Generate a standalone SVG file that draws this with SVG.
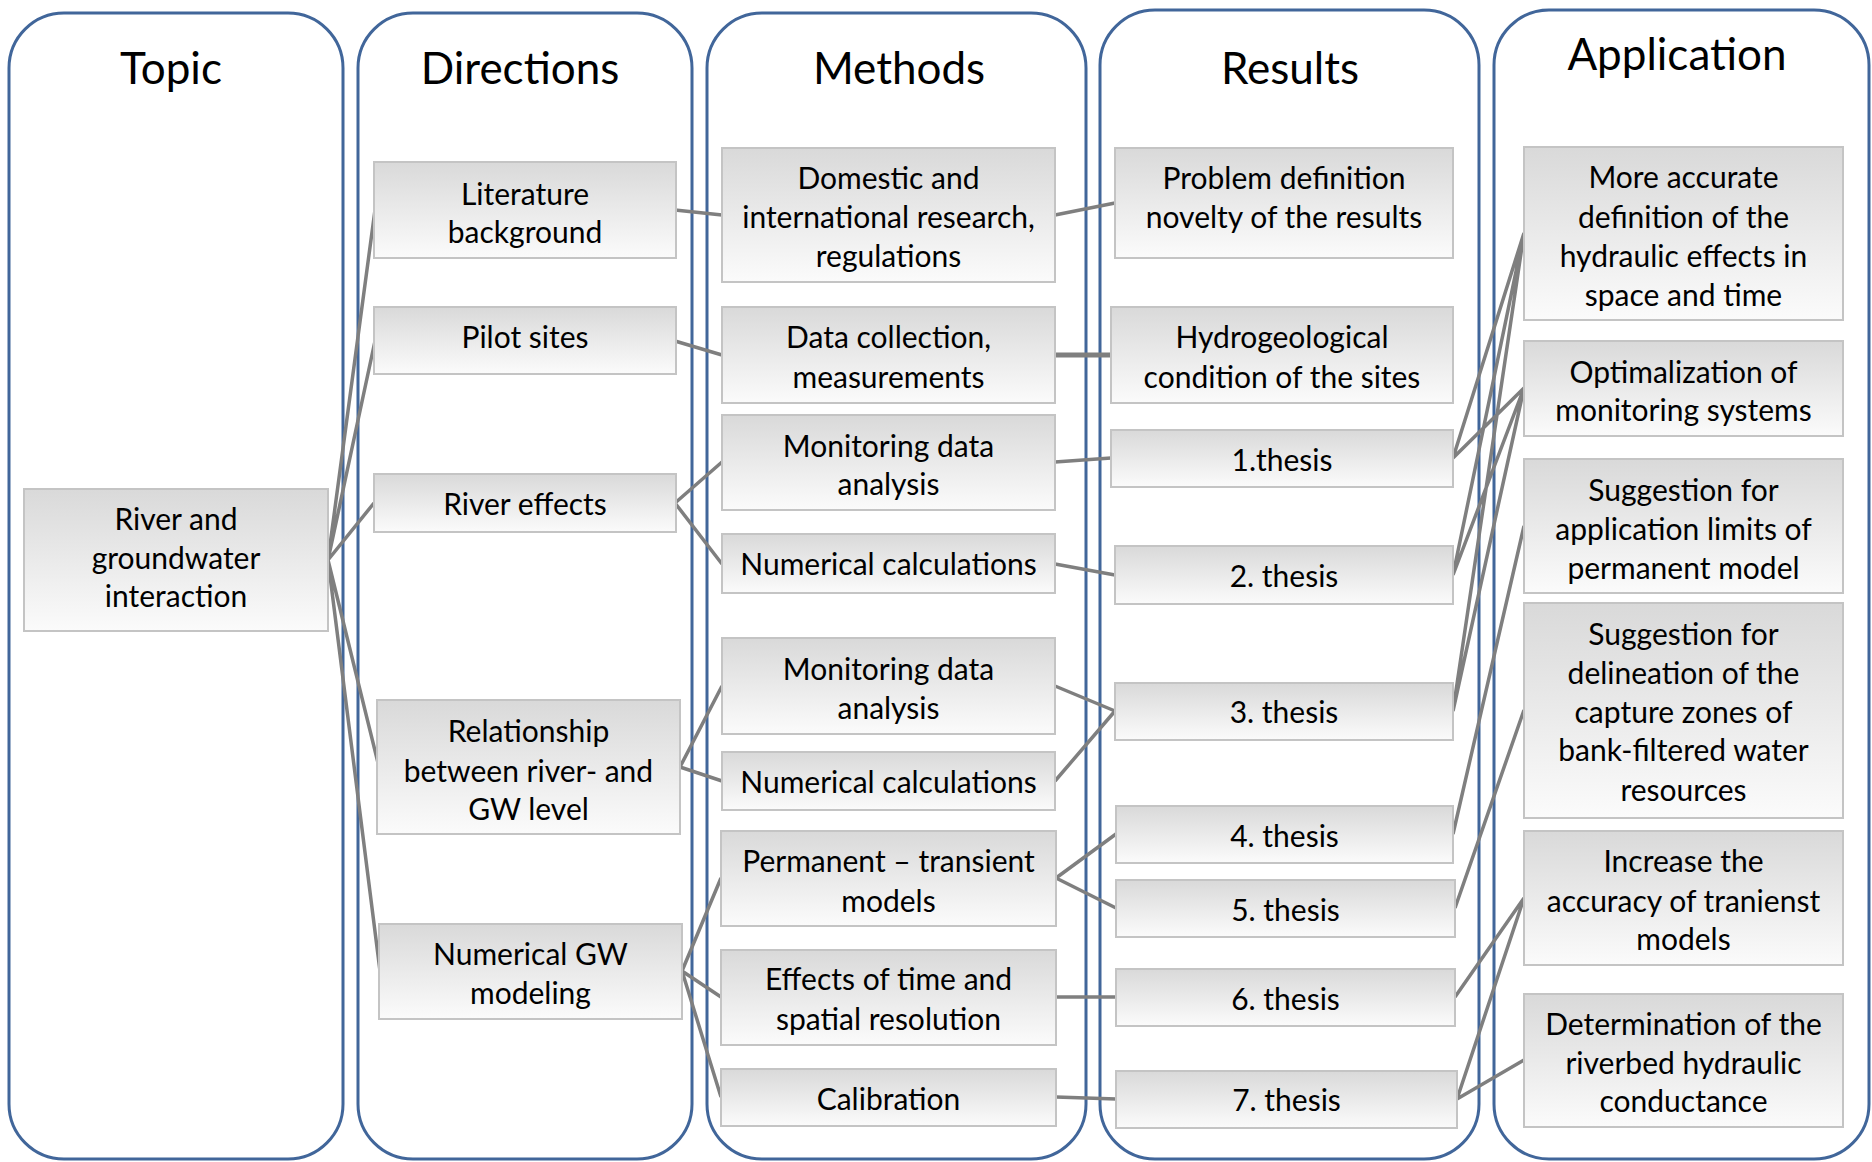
<svg xmlns="http://www.w3.org/2000/svg" width="1872" height="1162" viewBox="0 0 1872 1162">
<defs>
<linearGradient id="g" x1="0" y1="0" x2="0" y2="1">
<stop offset="0" stop-color="#d9d9d9"/>
<stop offset="1" stop-color="#fbfbfb"/>
</linearGradient>
</defs>
<style>
.lane{fill:#fff;stroke:#41669a;stroke-width:3}
.hd{font-family:Lato,"Open Sans",sans-serif;font-size:44px;fill:#000;text-anchor:middle}
.box{fill:url(#g);stroke:#c4c4c4;stroke-width:2}
.t{font-family:Lato,"Open Sans",sans-serif;font-size:30px;fill:#000;text-anchor:middle}
.c{stroke:#7f7f7f;stroke-width:3.5;fill:none}
</style>
<g id="lanes">
<g id="lane-topic"><rect class="lane" x="9" y="13" width="334" height="1146" rx="55"/><text class="hd" x="171" y="84">Topic</text></g>
<g id="lane-directions"><rect class="lane" x="358" y="13" width="334" height="1146" rx="55"/><text class="hd" x="520" y="84">Directions</text></g>
<g id="lane-methods"><rect class="lane" x="707" y="13" width="379" height="1146" rx="55"/><text class="hd" x="899" y="84">Methods</text></g>
<g id="lane-results"><rect class="lane" x="1100" y="10" width="379" height="1149" rx="55"/><text class="hd" x="1290" y="84">Results</text></g>
<g id="lane-application"><rect class="lane" x="1494" y="10" width="375" height="1149" rx="55"/><text class="hd" x="1677" y="70">Application</text></g>
</g>
<g id="connectors">
<path class="c" d="M328 560L375 210M328 560L375 341M328 560L374 503M328 560L379 767M328 560L380 971"/>
<path class="c" d="M675 210L722 215M675 341L722 355M675 503L722 462M675 503L722 564M680 767L722 686M680 767L722 781M682 971L721 878M682 971L721 997M682 971L721 1097"/>
<path class="c" d="M1055 215L1115 203M1055 462L1111 458M1055 564L1115 575M1055 686L1115 711M1055 781L1115 711M1056 878L1116 834M1056 878L1116 908M1056 997L1116 997M1056 1097L1116 1099"/>
<path class="c" style="stroke-width:5" d="M1055 355L1111 355"/>
<path class="c" d="M1453 458L1524 233M1453 458L1524 388M1453 575L1524 233M1453 575L1524 388M1453 711L1524 233M1453 711L1524 388M1453 834L1524 526M1455 908L1524 710M1455 997L1524 898M1457 1099L1524 898M1457 1099L1524 1060"/>
</g>
<g id="n-topic"><rect class="box" x="24" y="489" width="304" height="142"/><text class="t"><tspan x="176" y="530">River and</tspan><tspan x="176" y="569">groundwater</tspan><tspan x="176" y="607">interaction</tspan></text></g>
<g id="n-literature"><rect class="box" x="374" y="162" width="302" height="96"/><text class="t"><tspan x="525" y="205">Literature</tspan><tspan x="525" y="243">background</tspan></text></g>
<g id="n-pilot"><rect class="box" x="374" y="307" width="302" height="67"/><text class="t" x="525" y="348">Pilot sites</text></g>
<g id="n-river"><rect class="box" x="374" y="474" width="302" height="58"/><text class="t" x="525" y="515">River effects</text></g>
<g id="n-relationship"><rect class="box" x="377" y="700" width="303" height="134"/><text class="t"><tspan x="528.5" y="742">Relationship</tspan><tspan x="528.5" y="782">between river- and</tspan><tspan x="528.5" y="820">GW level</tspan></text></g>
<g id="n-numgw"><rect class="box" x="379" y="924" width="303" height="95"/><text class="t"><tspan x="530.5" y="965">Numerical GW</tspan><tspan x="530.5" y="1004">modeling</tspan></text></g>
<g id="n-domestic"><rect class="box" x="722" y="148" width="333" height="134"/><text class="t"><tspan x="888.5" y="189">Domestic and</tspan><tspan x="888.5" y="228">international research,</tspan><tspan x="888.5" y="267">regulations</tspan></text></g>
<g id="n-data"><rect class="box" x="722" y="307" width="333" height="96"/><text class="t"><tspan x="888.5" y="348">Data collection,</tspan><tspan x="888.5" y="388">measurements</tspan></text></g>
<g id="n-mon1"><rect class="box" x="722" y="415" width="333" height="95"/><text class="t"><tspan x="888.5" y="457">Monitoring data</tspan><tspan x="888.5" y="495">analysis</tspan></text></g>
<g id="n-num1"><rect class="box" x="722" y="534" width="333" height="59"/><text class="t" x="888.5" y="575">Numerical calculations</text></g>
<g id="n-mon2"><rect class="box" x="722" y="638" width="333" height="96"/><text class="t"><tspan x="888.5" y="680">Monitoring data</tspan><tspan x="888.5" y="719">analysis</tspan></text></g>
<g id="n-num2"><rect class="box" x="722" y="752" width="333" height="58"/><text class="t" x="888.5" y="793">Numerical calculations</text></g>
<g id="n-perm"><rect class="box" x="721" y="831" width="335" height="95"/><text class="t"><tspan x="888.5" y="872">Permanent – transient</tspan><tspan x="888.5" y="912">models</tspan></text></g>
<g id="n-effects"><rect class="box" x="721" y="950" width="335" height="95"/><text class="t"><tspan x="888.5" y="990">Effects of time and</tspan><tspan x="888.5" y="1030">spatial resolution</tspan></text></g>
<g id="n-calib"><rect class="box" x="721" y="1069" width="335" height="57"/><text class="t" x="888.5" y="1110">Calibration</text></g>
<g id="n-problem"><rect class="box" x="1115" y="148" width="338" height="110"/><text class="t"><tspan x="1284" y="189">Problem definition</tspan><tspan x="1284" y="228">novelty of the results</tspan></text></g>
<g id="n-hydro"><rect class="box" x="1111" y="307" width="342" height="96"/><text class="t"><tspan x="1282" y="348">Hydrogeological</tspan><tspan x="1282" y="388">condition of the sites</tspan></text></g>
<g id="n-t1"><rect class="box" x="1111" y="430" width="342" height="57"/><text class="t" x="1282" y="471">1.thesis</text></g>
<g id="n-t2"><rect class="box" x="1115" y="546" width="338" height="58"/><text class="t" x="1284" y="587">2. thesis</text></g>
<g id="n-t3"><rect class="box" x="1115" y="683" width="338" height="57"/><text class="t" x="1284" y="723">3. thesis</text></g>
<g id="n-t4"><rect class="box" x="1116" y="806" width="337" height="57"/><text class="t" x="1284.5" y="847">4. thesis</text></g>
<g id="n-t5"><rect class="box" x="1116" y="880" width="339" height="57"/><text class="t" x="1285.5" y="921">5. thesis</text></g>
<g id="n-t6"><rect class="box" x="1116" y="969" width="339" height="57"/><text class="t" x="1285.5" y="1010">6. thesis</text></g>
<g id="n-t7"><rect class="box" x="1116" y="1071" width="341" height="57"/><text class="t" x="1286.5" y="1111">7. thesis</text></g>
<g id="n-accurate"><rect class="box" x="1524" y="147" width="319" height="173"/><text class="t"><tspan x="1683.5" y="188">More accurate</tspan><tspan x="1683.5" y="228">definition of the</tspan><tspan x="1683.5" y="267">hydraulic effects in</tspan><tspan x="1683.5" y="306">space and time</tspan></text></g>
<g id="n-optim"><rect class="box" x="1524" y="341" width="319" height="95"/><text class="t"><tspan x="1683.5" y="383">Optimalization of</tspan><tspan x="1683.5" y="421">monitoring systems</tspan></text></g>
<g id="n-sugapp"><rect class="box" x="1524" y="459" width="319" height="134"/><text class="t"><tspan x="1683.5" y="501">Suggestion for</tspan><tspan x="1683.5" y="540">application limits of</tspan><tspan x="1683.5" y="579">permanent model</tspan></text></g>
<g id="n-delin"><rect class="box" x="1524" y="603" width="319" height="215"/><text class="t"><tspan x="1683.5" y="645">Suggestion for</tspan><tspan x="1683.5" y="684">delineation of the</tspan><tspan x="1683.5" y="723">capture zones of</tspan><tspan x="1683.5" y="761">bank-filtered water</tspan><tspan x="1683.5" y="801">resources</tspan></text></g>
<g id="n-increase"><rect class="box" x="1524" y="831" width="319" height="134"/><text class="t"><tspan x="1683.5" y="872">Increase the</tspan><tspan x="1683.5" y="912">accuracy of tranienst</tspan><tspan x="1683.5" y="950">models</tspan></text></g>
<g id="n-determ"><rect class="box" x="1524" y="994" width="319" height="133"/><text class="t"><tspan x="1683.5" y="1035">Determination of the</tspan><tspan x="1683.5" y="1074">riverbed hydraulic</tspan><tspan x="1683.5" y="1112">conductance</tspan></text></g>
</svg>
